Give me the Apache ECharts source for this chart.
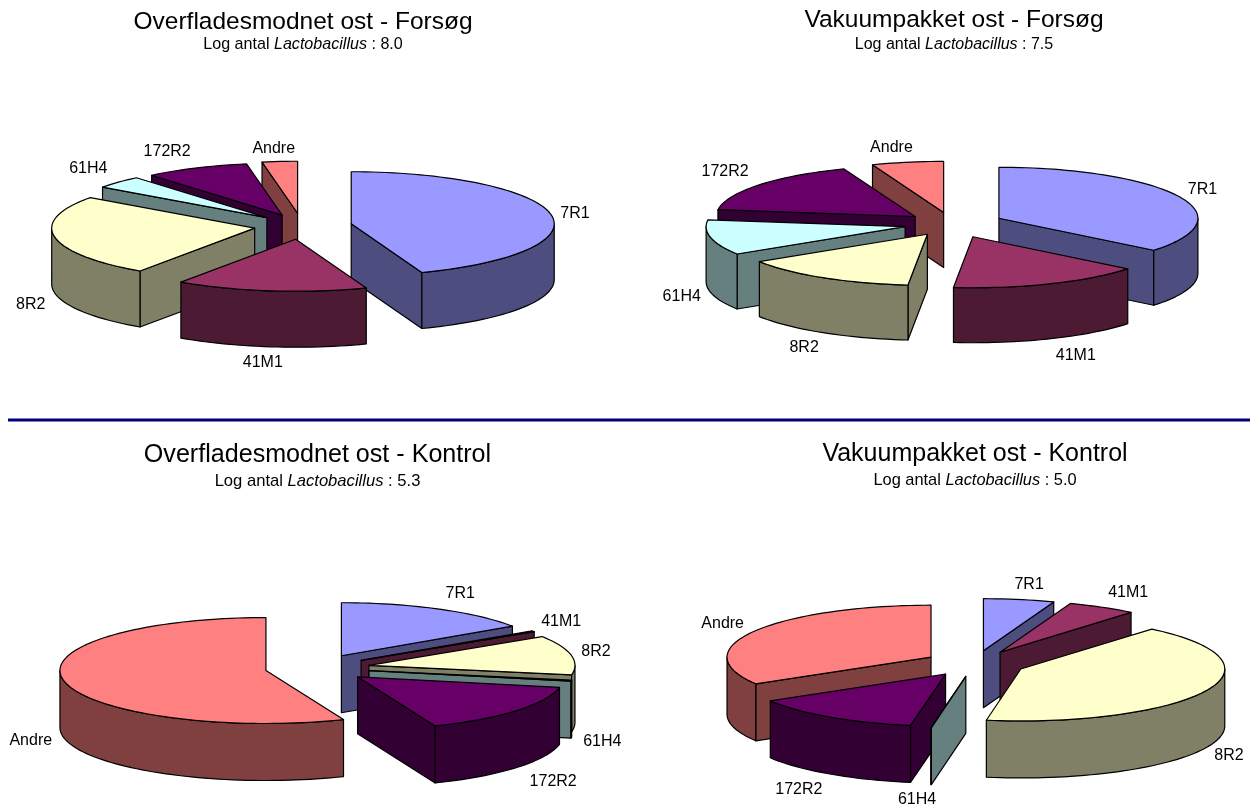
<!DOCTYPE html>
<html>
<head>
<meta charset="utf-8">
<title>Lactobacillus i ost</title>
<style>html,body{margin:0;padding:0;background:#fff}#chart{width:1253px;height:807px}</style>
<script src="https://cdn.jsdelivr.net/npm/echarts@6/dist/echarts.min.js"></script>
</head>
<body>
<div id="chart"></div>
<script>
// Strain shares (percent of isolates) for each cheese and treatment
const categories = ['7R1', '41M1', '8R2', '61H4', '172R2', 'Andre'];
const overfladeForsoeg = [44.3, 15.2, 25.4, 3.9, 8.3, 2.8];
const vakuumForsoeg = [35.7, 15.7, 14.4, 11.1, 17, 5.8];
const overfladeKontrol = [15.6, 0.3, 12, 0.3, 15.7, 56.2];
const vakuumKontrol = [5.6, 5.5, 41.6, 0.05, 13.7, 33.55];

const titles = ['Overfladesmodnet ost - Forsøg', 'Vakuumpakket ost - Forsøg', 'Overfladesmodnet ost - Kontrol', 'Vakuumpakket ost - Kontrol'];
const logCounts = ['8.0', '7.5', '5.3', '5.0'];

// Excel-style face colours and their darker wall shades
const topColors = ['#9999FF', '#993366', '#FFFFCC', '#CCFFFF', '#660066', '#FF8080'];
const wallColors = ['#4D4D80', '#4D1A33', '#808066', '#668080', '#330033', '#804040'];

const FONT = '"Liberation Sans", Arial, sans-serif';

// Placement of each exploded pie on the page
const pies = [
  { values: overfladeForsoeg, cx: 302, cy: 226, rx: 203, ry: 52, depth: 56, explode: [50, 52, 48, 48, 47, 50],
    titleX: 303, titleY: 10, gap: 2, titleSize: 24.5, subSize: 16.1,
    nudges: [[24, -1], [-8, 72], [-24, 68], [-30, -14], [-29, -16], [-6, -13]] },
  { values: vakuumForsoeg, cx: 952, cy: 224, rx: 199, ry: 51, depth: 55, explode: [52, 54, 47, 48, 47, 46],
    titleX: 954, titleY: 8, gap: 4, titleSize: 24.5, subSize: 16,
    nudges: [[24, -7], [26, 72], [-19, 70], [-29, 59], [-34, -13], [-16, -15]] },
  { values: overfladeKontrol, cx: 316, cy: 668, rx: 206, ry: 53, depth: 57, explode: [54, 54, 54, 54, 54, 51],
    titleX: 317.5, titleY: 443, gap: 5, titleSize: 25.1, subSize: 16.6,
    nudges: [[22, -15], [28, -10], [25, -3], [31, 61], [37, 71], [-33, 60]] },
  { values: vakuumKontrol, cx: 974.5, cy: 663.5, rx: 204, ry: 52, depth: 57, explode: [51, 51, 51, 51, 51, 50],
    titleX: 975, titleY: 442, gap: 5, titleSize: 25, subSize: 16.4,
    nudges: [[10, -15], [26, -15], [23, 65], [-14, 72], [-31, 73], [-31, -8]] }
];

const RAD = Math.PI / 180;

// Turn shares into clockwise angle spans starting at twelve o'clock
function sliceAngles(values) {
  const total = values.reduce((a, b) => a + b, 0);
  let run = 0;
  return values.map(v => {
    const start = run / total * 360;
    run += v;
    return { start, end: run / total * 360, mid: (start + run / total * 360) / 2 };
  });
}

function rimPoint(pie, apex, deg, drop) {
  return [apex[0] + pie.rx * Math.sin(deg * RAD), apex[1] - pie.ry * Math.cos(deg * RAD) + (drop || 0)];
}

function arcPoints(pie, apex, from, to, drop) {
  const steps = Math.max(2, Math.ceil((to - from) / 2));
  const pts = [];
  for (let i = 0; i <= steps; i++) pts.push(rimPoint(pie, apex, from + (to - from) * i / steps, drop));
  return pts;
}

function face(points, fill) {
  return { type: 'polygon', shape: { points }, style: { fill, stroke: '#000', lineWidth: 1.2, lineJoin: 'round' } };
}

function cutFace(pie, apex, deg, fill) {
  const rim = rimPoint(pie, apex, deg);
  return face([apex, rim, [rim[0], rim[1] + pie.depth], [apex[0], apex[1] + pie.depth]], fill);
}

function pieRenderer(pie) {
  const angles = sliceAngles(pie.values);
  return function (params, api) {
    const i = api.value(1);
    const a = angles[i];
    const k = pie.ry / pie.rx;
    const apex = [
      pie.cx + pie.explode[i] * Math.sin(a.mid * RAD),
      pie.cy - pie.explode[i] * k * Math.cos(a.mid * RAD)
    ];
    const children = [];
    // Cut faces that turn towards the viewer
    if (Math.sin(a.start * RAD) < -1e-6) children.push(cutFace(pie, apex, a.start, wallColors[i]));
    if (Math.sin(a.end * RAD) > 1e-6) children.push(cutFace(pie, apex, a.end, wallColors[i]));
    // Curved rim on the front half only
    const from = Math.max(a.start, 90), to = Math.min(a.end, 270);
    if (to > from) {
      const upper = arcPoints(pie, apex, from, to, 0);
      const lower = arcPoints(pie, apex, from, to, pie.depth).reverse();
      children.push(face(upper.concat(lower), wallColors[i]));
    }
    // Top surface
    children.push(face([apex].concat(arcPoints(pie, apex, a.start, a.end, 0)), topColors[i]));
    // Strain label beside the rim
    const anchor = rimPoint(pie, apex, a.mid);
    children.push({
      type: 'text', z2: 50,
      style: {
        text: categories[i], x: anchor[0] + pie.nudges[i][0], y: anchor[1] + pie.nudges[i][1],
        fill: '#000', font: '16px ' + FONT, align: 'center', verticalAlign: 'middle'
      }
    });
    return { type: 'group', children };
  };
}

// Back slices are painted first so nearer ones cover them
function paintOrder(pie) {
  const angles = sliceAngles(pie.values);
  return pie.values
    .map((v, i) => ({ name: categories[i], value: [v, i], depthKey: -Math.cos(angles[i].mid * RAD) }))
    .sort((a, b) => a.depthKey - b.depthKey)
    .map(d => ({ name: d.name, value: d.value }));
}

const chart = echarts.init(document.getElementById('chart'), null, { renderer: 'canvas' });
chart.setOption({
  animation: false,
  backgroundColor: '#fff',
  title: pies.map((p, n) => ({
    left: p.titleX, top: p.titleY, textAlign: 'center', padding: 0, itemGap: p.gap,
    text: titles[n],
    textStyle: { fontFamily: FONT, fontSize: p.titleSize, fontWeight: 'normal', color: '#000' },
    subtext: 'Log antal {i|Lactobacillus} : ' + logCounts[n],
    subtextStyle: {
      fontFamily: FONT, fontSize: p.subSize, color: '#000',
      rich: { i: { fontFamily: FONT, fontSize: p.subSize, fontStyle: 'italic', color: '#000' } }
    }
  })),
  graphic: [{
    type: 'line', silent: true,
    shape: { x1: 8, y1: 420, x2: 1250, y2: 420 },
    style: { stroke: '#000080', lineWidth: 3 }
  }],
  series: pies.map(p => ({
    type: 'custom', coordinateSystem: 'none', silent: true,
    renderItem: pieRenderer(p),
    data: paintOrder(p)
  }))
});
</script>
</body>
</html>
